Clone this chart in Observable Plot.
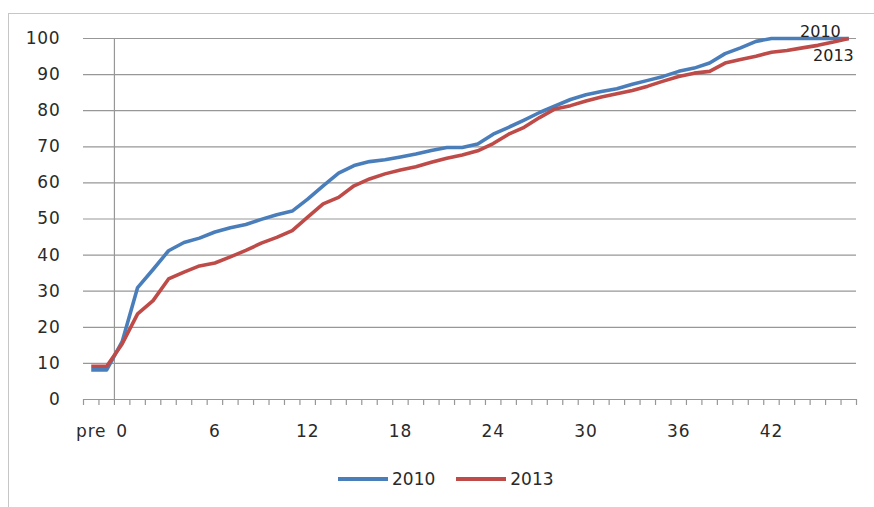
<!DOCTYPE html>
<html>
<head>
<meta charset="utf-8">
<script src="https://cdn.jsdelivr.net/npm/d3@7"></script>
<script src="https://cdn.jsdelivr.net/npm/@observablehq/plot@0.6"></script>
<style>
  html, body { margin: 0; padding: 0; background: #fff; overflow: hidden; }
  #wrap { position: relative; width: 874px; height: 507px; }
  #frame {
    position: absolute; left: 8px; top: 13px; width: 900px; height: 520px;
    border: 1.5px solid #c6c6c6; box-sizing: border-box;
  }
  #chart { position: absolute; left: 0; top: 0; }
  #chart svg [aria-label="y-axis tick label"] text,
  #chart svg [aria-label="x-axis tick label"] text { letter-spacing: 0.8px; }
  #legend {
    position: absolute; top: 469px; left: 338px;
    display: flex; align-items: center;
    font-family: "DejaVu Sans", sans-serif; font-size: 17px; color: #2a2a2a;
  }
  .item { display: flex; align-items: center; margin-right: 21px; }
  .swatch { width: 50px; height: 4px; margin-right: 4px; }
</style>
</head>
<body>
<div id="wrap">
  <div id="frame"></div>
  <div id="chart"></div>
  <div id="legend"></div>
</div>
<script>
// Months on the category axis: two pre-period points, then month 0 to 47
const months = ["pre", ""].concat(d3.range(0, 48).map(String));

// Labelled months along the axis
const tickLabels = ["pre", "0", "6", "12", "18", "24", "30", "36", "42"];

// Cumulative share (%) per month
const series2010 = [
  8.2, 8.2, 16, 31, 36, 41.2, 43.5, 44.7, 46.4, 47.6,
  48.5, 49.9, 51.2, 52.2, 55.5, 59.2, 62.7, 64.8, 65.9, 66.4,
  67.2, 68, 69, 69.8, 69.8, 70.8, 73.5, 75.4, 77.4, 79.5,
  81.3, 83.1, 84.4, 85.3, 86.1, 87.3, 88.4, 89.5, 90.9, 91.8,
  93.2, 95.8, 97.4, 99.2, 100, 100, 100, 100, 100, 100
];
const series2013 = [
  9.2, 9.2, 15.4, 23.7, 27.4, 33.4, 35.3, 37, 37.8, 39.5,
  41.3, 43.3, 44.9, 46.8, 50.5, 54.2, 56, 59.2, 61.1, 62.5,
  63.6, 64.5, 65.7, 66.8, 67.7, 68.9, 70.9, 73.5, 75.4, 78.1,
  80.5, 81.4, 82.7, 83.8, 84.7, 85.6, 86.8, 88.2, 89.5, 90.4,
  90.9, 93.2, 94.2, 95.1, 96.2, 96.7, 97.4, 98.1, 99, 100
];

const seriesNames = ["2010", "2013"];
const seriesColors = ["#4a7ebb", "#be4b48"];
const yTicks = d3.range(0, 101, 10);

// Long table for the line marks
const rows = [];
[series2010, series2013].forEach((vals, s) => {
  vals.forEach((v, i) => rows.push({i, value: v, series: seriesNames[s]}));
});

const last = months.length - 1;
const endLabels = [
  {i: last, value: series2010[last], series: "2010"},
  {i: last, value: series2013[last], series: "2013"}
];

const labelIndex = tickLabels.map(t => months.indexOf(t));
const boundaries = d3.range(0, months.length + 1).map(k => k - 0.5);
const zeroIndex = months.indexOf("0");

const chart = Plot.plot({
  width: 874,
  height: 460,
  marginLeft: 83,
  marginRight: 18,
  marginTop: 38,
  marginBottom: 61,
  style: {fontFamily: "DejaVu Sans, sans-serif", fontSize: "17px", color: "#2a2a2a", background: "transparent"},
  x: {domain: [-0.5, months.length - 0.5], axis: null},
  y: {domain: [0, 100], axis: null},
  color: {domain: seriesNames, range: seriesColors},
  marks: [
    Plot.ruleY(yTicks, {stroke: "#979797", strokeWidth: 1.2}),
    Plot.ruleX([zeroIndex - 0.5], {y1: 0, y2: 100, stroke: "#979797", strokeWidth: 1.2}),
    Plot.axisX({ticks: boundaries, tickSize: 6, tickFormat: () => "", label: null, stroke: "#979797", strokeWidth: 1.2}),
    Plot.axisX({ticks: labelIndex, tickSize: 0, tickPadding: 25, tickFormat: i => months[i], label: null, fill: "#2a2a2a"}),
    Plot.axisY({ticks: yTicks, tickSize: 0, tickPadding: 23, label: null, fill: "#2a2a2a"}),
    Plot.line(rows, {x: "i", y: "value", z: "series", stroke: "series", strokeWidth: 3.6, strokeLinejoin: "round", strokeLinecap: "butt"}),
    Plot.text(endLabels.slice(0, 1), {x: "i", y: "value", text: "series", textAnchor: "end", dx: -8, dy: -7, fontSize: 16, fill: "#222"}),
    Plot.text(endLabels.slice(1), {x: "i", y: "value", text: "series", textAnchor: "end", dx: 5, dy: 17, fontSize: 16, fill: "#222"})
  ]
});
document.getElementById("chart").appendChild(chart);

// Legend below the plot
const legend = d3.select("#legend");
seriesNames.forEach((name, k) => {
  const item = legend.append("div").attr("class", "item");
  item.append("div").attr("class", "swatch").style("background", seriesColors[k]);
  item.append("span").text(name);
});
</script>
</body>
</html>
